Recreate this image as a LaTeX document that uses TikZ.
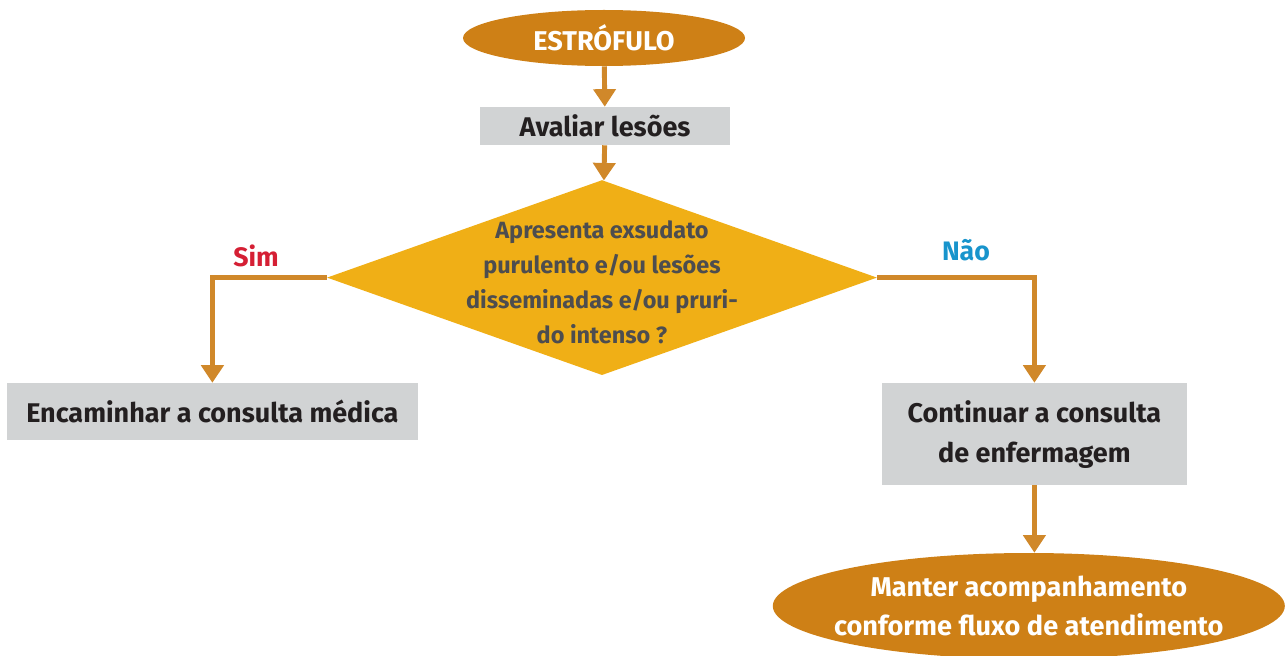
\documentclass[tikz,border=0pt]{standalone}
\usepackage{fontspec}
\setmainfont{Fira Sans}
\usepackage{tikz}
\usetikzlibrary{shapes.geometric, arrows.meta, positioning, calc}
\definecolor{termfill}{RGB}{206,128,22}
\definecolor{decisionfill}{RGB}{240,175,22}
\definecolor{boxfill}{RGB}{209,211,212}
\definecolor{linkcolor}{RGB}{208,136,42}
\definecolor{boxtext}{RGB}{35,31,32}
\definecolor{decisiontext}{RGB}{77,77,79}
\definecolor{simcolor}{RGB}{213,31,52}
\definecolor{naocolor}{RGB}{24,148,204}
\tikzset{
    terminal/.style={
        ellipse, fill=termfill, text=white, inner sep=0pt,
        align=center, font=\fontsize{19.3}{28}\selectfont\bfseries
    },
    action/.style={
        rectangle, fill=boxfill, text=boxtext, inner sep=0pt,
        align=center, font=\fontsize{19.2}{28.5}\selectfont\bfseries
    },
    decision/.style={
        diamond, fill=decisionfill, inner sep=0pt, aspect=2.82
    },
    decisionlabel/.style={
        text=decisiontext, align=center,
        font=\fontsize{16.7}{24.8}\selectfont\bfseries
    },
    connection/.style={draw=linkcolor, line width=3.5pt,
        -{Triangle[width=15.6pt, length=12.5pt]}},
    answer/.style={font=\fontsize{19}{22}\selectfont\bfseries}
}

\begin{document}
\begin{tikzpicture}
    \useasboundingbox (0,0) rectangle (32.125,-16.4);

    % Flow nodes
    \node[terminal, minimum width=7.05cm, minimum height=1.4cm] (start) at (15.1,-0.95) {ESTRÓFULO};
    \node[action, minimum width=6.25cm, minimum height=0.95cm] (avaliar) at (15.125,-3.15) {Avaliar lesões};
    \node[decision, minimum width=13.75cm, minimum height=4.875cm] (pergunta) at (15.05,-6.94) {};
    \node[decisionlabel] (perguntatext) at (15.05,-7.05)
        {Apresenta exsudato\\purulento e/ou lesões\\disseminadas e/ou pruri-\\do intenso ?};
    \node[action, minimum width=10.275cm, minimum height=1.425cm] (medica) at (5.31,-10.29) {Encaminhar a consulta médica};
    \node[action, minimum width=7.625cm, minimum height=2.55cm, text depth=0.1cm] (enfermagem) at (25.86,-10.85)
        {Continuar a consulta\\de enfermagem};
    \node[terminal, inner xsep=-1.2cm, minimum width=12.8cm, minimum height=2.65cm] (manter) at (25.72,-15.15)
        {Manter acompanhamento\\conforme fluxo de atendimento};

    % Connectors
    \path[connection] (start) -- (avaliar);
    \path[connection] (avaliar) -- (pergunta);
    \path[connection] (pergunta.west) -| (medica.north);
    \path[connection] (pergunta.east) -| (enfermagem.north);
    \path[connection] (enfermagem.south) -- (enfermagem.south |- manter.north);

    % Answer labels
    \node[answer, text=simcolor] (sim) at (6.4,-6.4) {Sim};
    \node[answer, text=naocolor] (nao) at (24.15,-6.25) {Não};
\end{tikzpicture}
\end{document}
